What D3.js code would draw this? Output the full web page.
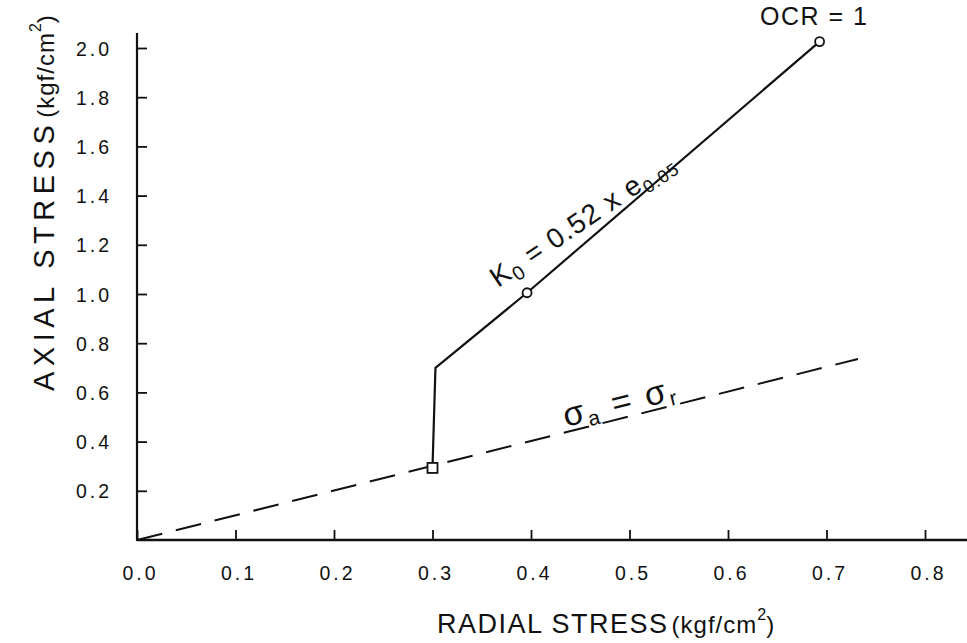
<!DOCTYPE html>
<html>
<head>
<meta charset="utf-8">
<script src="https://cdn.jsdelivr.net/npm/d3@7"></script>
<style>
  body { margin: 0; background: #fff; }
  svg { display: block; }
  text { font-family: "Liberation Sans", Arial, sans-serif; fill: #111; }
</style>
</head>
<body>
<div id="chart"></div>
<script>
// values
var xTicks = [0.0, 0.1, 0.2, 0.3, 0.4, 0.5, 0.6, 0.7, 0.8];
var yTicks = [0.2, 0.4, 0.6, 0.8, 1.0, 1.2, 1.4, 1.6, 1.8, 2.0];

// stress path (radial, axial)
var pathRadial = [0.300, 0.303, 0.396, 0.693];
var pathAxial  = [0.293, 0.700, 1.005, 2.026];
var circleIdx = [2, 3];
var squareIdx = [0];

// sigma_a = sigma_r line
var isoRadial = [0.0, 0.732];
var isoAxial  = [0.0, 0.736];

var W = 967, H = 643;
var svg = d3.select("#chart").append("svg").attr("width", W).attr("height", H);

var x = d3.scaleLinear().domain([0, 0.8]).range([137, 925]);
var y = d3.scaleLinear().domain([0, 2.0]).range([540, 48]);

var ink = "#111";

// axis lines
svg.append("line").attr("x1", x(0)).attr("x2", W).attr("y1", y(0)).attr("y2", y(0))
  .attr("stroke", ink).attr("stroke-width", 2.4);
svg.append("line").attr("x1", x(0)).attr("x2", x(0)).attr("y1", y(0) + 1).attr("y2", 33)
  .attr("stroke", ink).attr("stroke-width", 2.2);

var xAxis = svg.append("g").attr("transform", "translate(0," + y(0) + ")")
  .call(d3.axisBottom(x).tickValues(xTicks).tickSize(-10).tickSizeOuter(0).tickPadding(26)
    .tickFormat(d3.format(".1f")));
var yAxis = svg.append("g").attr("transform", "translate(" + x(0) + ",0)")
  .call(d3.axisLeft(y).tickValues(yTicks).tickSize(-10).tickSizeOuter(0).tickPadding(25)
    .tickFormat(d3.format(".1f")));

[xAxis, yAxis].forEach(function (g) {
  g.select(".domain").remove();
  g.selectAll(".tick line").attr("stroke", ink).attr("stroke-width", 1.8);
  g.selectAll(".tick text").attr("font-size", 19.5).attr("letter-spacing", 3)
    .attr("font-family", "Liberation Sans, Arial, sans-serif").attr("fill", ink);
});
xAxis.selectAll(".tick text").attr("dx", 3);
yAxis.selectAll(".tick text").attr("dy", "0.36em");

// dashed equal-stress line
var isoPts = isoRadial.map(function (r, i) { return [x(r), y(isoAxial[i])]; });
svg.append("path").attr("d", d3.line()(isoPts))
  .attr("fill", "none").attr("stroke", ink).attr("stroke-width", 2)
  .attr("stroke-dasharray", "26,14");

// stress path
var pts = pathRadial.map(function (r, i) { return [x(r), y(pathAxial[i])]; });
svg.append("path").attr("d", d3.line()(pts))
  .attr("fill", "none").attr("stroke", ink).attr("stroke-width", 2.2)
  .attr("stroke-linejoin", "round");

svg.selectAll("circle.pt").data(circleIdx).enter().append("circle")
  .attr("class", "pt")
  .attr("cx", function (i) { return x(pathRadial[i]); })
  .attr("cy", function (i) { return y(pathAxial[i]); })
  .attr("r", 4.5).attr("fill", "#fff").attr("stroke", ink).attr("stroke-width", 1.8);

svg.selectAll("rect.pt").data(squareIdx).enter().append("rect")
  .attr("class", "pt")
  .attr("x", function (i) { return x(pathRadial[i]) - 5; })
  .attr("y", function (i) { return y(pathAxial[i]) - 5; })
  .attr("width", 10).attr("height", 10)
  .attr("fill", "#fff").attr("stroke", ink).attr("stroke-width", 1.8);

// annotations
svg.append("text").attr("x", 760).attr("y", 25).attr("font-size", 25)
  .attr("letter-spacing", 1.5).text("OCR = 1");

var k0 = svg.append("text").attr("transform", "translate(498,288) rotate(-34)")
  .attr("font-size", 28).attr("letter-spacing", 1.2);
k0.append("tspan").text("K");
k0.append("tspan").attr("font-size", 20).attr("dy", 6).text("0");
k0.append("tspan").attr("dy", -6).text(" = 0.52 x e");
k0.append("tspan").attr("font-size", 18).attr("dy", 6).text("0.05");

var angIso = -Math.atan2(y(0) - y(1), x(1) - x(0)) * 180 / Math.PI;
var sg = svg.append("text").attr("transform", "translate(566,427) rotate(" + angIso + ")")
  .attr("font-size", 34).attr("letter-spacing", 2.5);
sg.append("tspan").text("σ");
sg.append("tspan").attr("font-size", 21).attr("dy", 5).text("a");
sg.append("tspan").attr("dy", -5).text(" = σ");
sg.append("tspan").attr("font-size", 21).attr("dy", 5).text("r");

// axis titles
var xt = svg.append("text").attr("x", 437).attr("y", 633).attr("font-size", 27)
  .attr("letter-spacing", 1.5);
xt.append("tspan").text("RADIAL STRESS");
xt.append("tspan").attr("font-size", 24).attr("letter-spacing", 1).attr("dx", 3).text("(kgf/cm");
xt.append("tspan").attr("font-size", 16).attr("dy", -13).attr("letter-spacing", 0).text("2");
xt.append("tspan").attr("font-size", 24).attr("dy", 13).attr("letter-spacing", 0).text(")");

var yt = svg.append("text").attr("transform", "translate(54,391) rotate(-90)")
  .attr("font-size", 29).attr("letter-spacing", 5.5);
yt.append("tspan").text("AXIAL STRESS");
yt.append("tspan").attr("font-size", 24).attr("letter-spacing", 1).attr("dx", 2).text("(kgf/cm");
yt.append("tspan").attr("font-size", 16).attr("dy", -13).attr("letter-spacing", 0).text("2");
yt.append("tspan").attr("font-size", 24).attr("dy", 13).attr("letter-spacing", 0).text(")");
</script>
</body>
</html>
